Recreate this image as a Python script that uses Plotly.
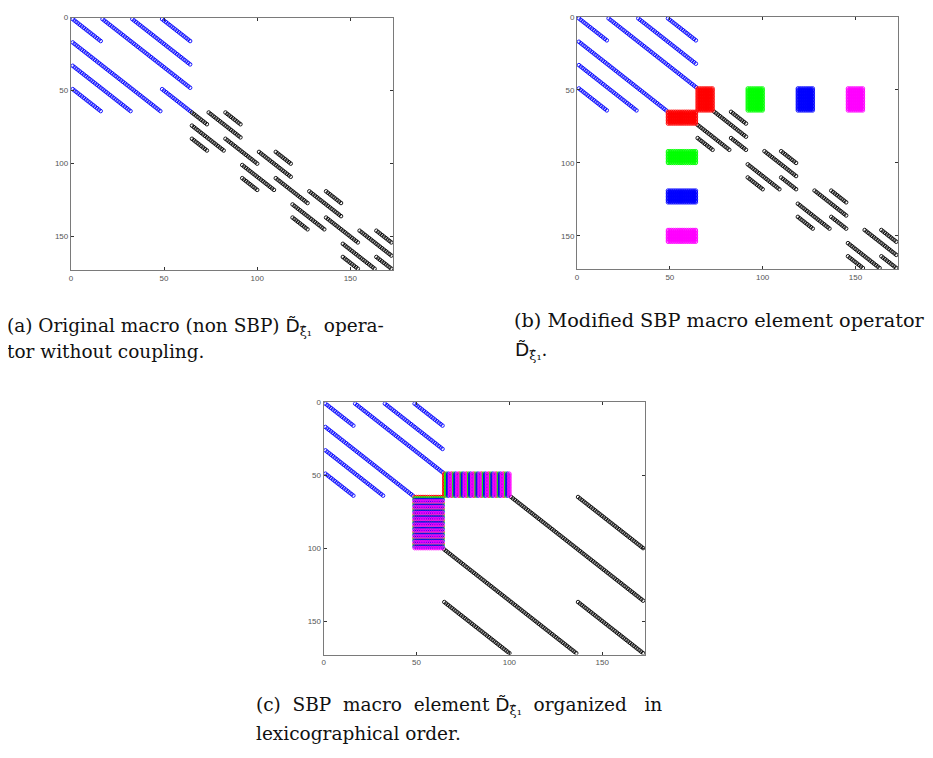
import numpy as np
import plotly.graph_objects as go

# ---------------- data ----------------
AX_MAX = 173                      # spy axis goes 0 .. n+1 with n = 172
TICKS = [0, 50, 100, 150]

# 1-D node coupling patterns of the two element operators (1 = nonzero)
P_BLUE = [[1, 1, 1, 1],
          [1, 0, 1, 1],
          [1, 1, 0, 1],
          [1, 1, 1, 1]]
P_BLACK = [[1, 1, 1],
           [1, 0, 1],
           [1, 1, 1]]
BLUE_START, BLUE_STRIDE = 1, 16
BLACK_STARTS = [65, 92, 119, 146]
BLACK_STRIDE = 9
# modified (SBP) version: removed diagonal node entries
BLUE_DIAG_REMOVED = [3]
BLACK_DIAG_REMOVED = [0]
COUPLING_ROWS = [49, 64]          # interface rows / cols of the blue element
COUPLING_COLORS = ["#ff0000", "#00ff00", "#0000ff", "#ff00ff"]
LEX_START, LEX_STRIDE = 65, 36    # lexicographic ordering of the black part

BLUE = "#0000ff"
BLACK = "#000000"

DOP = "<span style='font-family:DejaVu Sans'>D̃</span><sub>ξ̂₁</sub>"
NB = "\u00a0"
CAPTIONS = [
    # (text, x_px, y_px, font size)
    ("(a) Original macro (non SBP) " + DOP + NB + " opera-", -5, 317, 18.5),
    ("tor without coupling.", -5, 341, 18.5),
    ("(b) Modified SBP macro element operator", 503, 310, 19.3),
    (DOP + ".", 504, 341, 18.5),
    ("(c)" + NB + " SBP" + NB + " macro" + NB + " element " + DOP + NB
     + " organized" + NB + NB + " in", 245, 698, 18.5),
    ("lexicographical order.", 245, 725, 18.5),
]

W, H = 933, 758
PANELS = {  # pixel boxes: x0, x1, y0 (top), y1 (bottom)
    "a": (61, 384, 5.7, 259.5),
    "b": (568.3, 890, 5, 258.8),
    "c": (314.3, 636.3, 392.3, 646),
}


# ---------------- helpers ----------------
def pattern(P, removed=()):
    P = [list(r) for r in P]
    for i in removed:
        P[i][i] = 0
    return P


def kron_points(P, start, stride):
    rows, cols = [], []
    for i, prow in enumerate(P):
        for j, v in enumerate(prow):
            if v:
                for k in range(stride):
                    rows.append(start + i * stride + k)
                    cols.append(start + j * stride + k)
    return rows, cols


def block_points(rlist, clist):
    rows, cols = [], []
    for r in rlist:
        for c in clist:
            rows.append(r)
            cols.append(c)
    return rows, cols


fig = go.Figure()


def add(rows, cols, color, n):
    fig.add_trace(go.Scatter(
        x=cols, y=rows, mode="markers",
        marker=dict(symbol="circle-open", size=3.6, color=color,
                    line=dict(width=0.9, color=color)),
        xaxis="x" + ("" if n == 1 else str(n)),
        yaxis="y" + ("" if n == 1 else str(n)),
        showlegend=False, hoverinfo="skip"))


crow = list(range(COUPLING_ROWS[0], COUPLING_ROWS[1] + 1))

# panel (a)
r, c = kron_points(P_BLUE, BLUE_START, BLUE_STRIDE)
add(r, c, BLUE, 1)
rr, cc = [], []
for s in BLACK_STARTS:
    r, c = kron_points(P_BLACK, s, BLACK_STRIDE)
    rr += r; cc += c
add(rr, cc, BLACK, 1)

# panel (b)
PB = pattern(P_BLUE, BLUE_DIAG_REMOVED)
PK = pattern(P_BLACK, BLACK_DIAG_REMOVED)
r, c = kron_points(PB, BLUE_START, BLUE_STRIDE)
add(r, c, BLUE, 2)
rr, cc = [], []
for s in BLACK_STARTS:
    r, c = kron_points(PK, s, BLACK_STRIDE)
    rr += r; cc += c
add(rr, cc, BLACK, 2)
for s, col in zip(BLACK_STARTS, COUPLING_COLORS):
    node = list(range(s, s + BLACK_STRIDE))
    r1, c1 = block_points(crow, node)
    r2, c2 = block_points(node, crow)
    add(r1 + r2, c1 + c2, col, 2)

# panel (c)
r, c = kron_points(PB, BLUE_START, BLUE_STRIDE)
add(r, c, BLUE, 3)
r, c = kron_points(PK, LEX_START, LEX_STRIDE)
add(r, c, BLACK, 3)
ncol = len(COUPLING_COLORS)
for k, col in enumerate(COUPLING_COLORS):
    node = [LEX_START + ncol * j + k for j in range(BLACK_STRIDE)]
    r1, c1 = block_points(crow, node)
    r2, c2 = block_points(node, crow)
    add(r1 + r2, c1 + c2, col, 3)

# ---------------- layout ----------------
def axis_common():
    return dict(range=[0, AX_MAX], tickvals=TICKS, ticks="inside", ticklen=3,
                tickcolor="#333333", showline=True, linecolor="#7a7a7a",
                linewidth=1, mirror="ticks", showgrid=False, zeroline=False,
                tickfont=dict(family="Liberation Sans", size=8, color="#555555"),
                fixedrange=True)

layout = dict(width=W, height=H, margin=dict(l=0, r=0, t=0, b=0),
              paper_bgcolor="white", plot_bgcolor="white")
for n, key in enumerate(["a", "b", "c"], start=1):
    x0, x1, y0, y1 = PANELS[key]
    sx = "" if n == 1 else str(n)
    xa = axis_common()
    xa.update(domain=[x0 / W, x1 / W], anchor="y" + sx)
    ya = axis_common()
    ya.update(domain=[1 - y1 / H, 1 - y0 / H], anchor="x" + sx,
              range=[AX_MAX, 0])
    layout["xaxis" + sx] = xa
    layout["yaxis" + sx] = ya

annotations = []
for text, xp, yp, fs in CAPTIONS:
    annotations.append(dict(text=text, x=xp / W, y=1 - yp / H, xref="paper",
                            yref="paper", xanchor="left", yanchor="middle",
                            align="left", showarrow=False,
                            font=dict(family="DejaVu Serif", size=fs,
                                      color="#111111")))
layout["annotations"] = annotations
fig.update_layout(**layout)
fig.write_html("out.html")
